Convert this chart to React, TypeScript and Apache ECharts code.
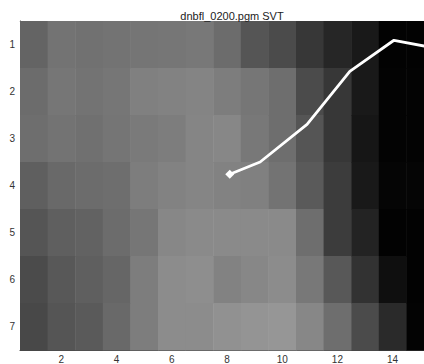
import React, { useEffect, useRef } from "react";
import * as echarts from "echarts";

const titleText = "dnbfl_0200.pgm SVT";
const xTicks = [2, 4, 6, 8, 10, 12, 14];
const yTicks = [1, 2, 3, 4, 5, 6, 7];

// gray level per cell, rows 1..7 (top to bottom), columns 1..15
const row1 = [100, 115, 113, 115, 117, 118, 120, 108, 85, 75, 55, 38, 25, 2, 2];
const row2 = [108, 118, 115, 118, 128, 130, 132, 125, 118, 110, 75, 55, 25, 3, 3];
const row3 = [110, 115, 112, 117, 122, 125, 133, 135, 120, 110, 85, 55, 22, 3, 3];
const row4 = [95, 105, 108, 110, 125, 130, 133, 130, 128, 115, 90, 60, 25, 5, 5];
const row5 = [85, 95, 98, 108, 118, 135, 138, 138, 138, 138, 110, 60, 35, 2, 2];
const row6 = [75, 88, 95, 102, 125, 140, 142, 130, 135, 140, 120, 88, 50, 15, 2];
const row7 = [72, 85, 90, 105, 125, 140, 140, 145, 148, 150, 135, 110, 75, 42, 3];
const grayRows = [row1, row2, row3, row4, row5, row6, row7];

// white path (x, y)
const pathX = [8.1, 9.2, 10.9, 12.45, 14.05, 15.2];
const pathY = [3.76, 3.5, 2.7, 1.57, 0.91, 1.04];

export default function App() {
  const ref = useRef<HTMLDivElement>(null);
  useEffect(() => {
    if (!ref.current) return;
    const chart = echarts.init(ref.current, null, { renderer: "svg" });
    const cells: number[][] = [];
    grayRows.forEach((r, ri) => r.forEach((g, ci) => cells.push([ci + 1, ri + 1, g])));
    const lineData = pathX.map((x, i) =>
      i === 0
        ? { value: [x, pathY[i]], symbol: "diamond", symbolSize: 9 }
        : { value: [x, pathY[i]], symbol: "none" }
    );
    const font = "Liberation Sans, Arial, sans-serif";
    chart.setOption({
      animation: false,
      backgroundColor: "#ffffff",
      title: {
        text: titleText,
        left: 227,
        top: 5,
        textAlign: "center",
        textStyle: { fontSize: 11, fontWeight: "normal", color: "#222", fontFamily: font },
      },
      grid: { left: 20, top: 21, width: 414, height: 330 },
      xAxis: [
        {
          type: "value",
          min: 0.5,
          max: 15.5,
          position: "bottom",
          splitLine: { show: false },
          axisLine: { show: true, lineStyle: { color: "#444", width: 1 } },
          axisTick: { inside: true, length: 4, customValues: xTicks, lineStyle: { color: "#222" } },
          axisLabel: { customValues: xTicks, fontSize: 10, color: "#333", margin: 4, fontFamily: font },
        },
        {
          type: "value",
          min: 0.5,
          max: 15.5,
          position: "top",
          splitLine: { show: false },
          axisLine: { show: true, lineStyle: { color: "#bbb", width: 1 } },
          axisTick: { inside: true, length: 4, customValues: xTicks, lineStyle: { color: "#222" } },
          axisLabel: { show: false },
        },
      ],
      yAxis: {
        type: "value",
        min: 0.5,
        max: 7.5,
        inverse: true,
        splitLine: { show: false },
        axisLine: { show: true, lineStyle: { color: "#444", width: 1 } },
        axisTick: { inside: true, length: 4, customValues: yTicks, lineStyle: { color: "#222" } },
        axisLabel: { customValues: yTicks, fontSize: 10, color: "#333", margin: 5, fontFamily: font },
      },
      series: [
        {
          type: "custom",
          xAxisIndex: 0,
          yAxisIndex: 0,
          encode: { x: 0, y: 1 },
          data: cells,
          z: 1,
          renderItem: (params: any, api: any) => {
            const x = api.value(0);
            const y = api.value(1);
            const g = api.value(2);
            const p1 = api.coord([x - 0.5, y - 0.5]);
            const p2 = api.coord([x + 0.5, y + 0.5]);
            return {
              type: "rect",
              shape: {
                x: Math.min(p1[0], p2[0]),
                y: Math.min(p1[1], p2[1]),
                width: Math.abs(p2[0] - p1[0]) + 0.5,
                height: Math.abs(p2[1] - p1[1]) + 0.5,
              },
              style: { fill: `rgb(${g},${g},${g})` },
            };
          },
        },
        {
          type: "line",
          xAxisIndex: 0,
          yAxisIndex: 0,
          data: lineData,
          z: 5,
          lineStyle: { color: "#ffffff", width: 2.8 },
          itemStyle: { color: "#ffffff" },
          showSymbol: true,
        },
      ],
    });
    return () => chart.dispose();
  }, []);
  return (
    <div
      style={{ position: "fixed", left: 0, top: 0, width: 424, height: 364, overflow: "hidden", background: "#fff" }}
    >
      <div ref={ref} style={{ width: 440, height: 364 }} />
    </div>
  );
}
